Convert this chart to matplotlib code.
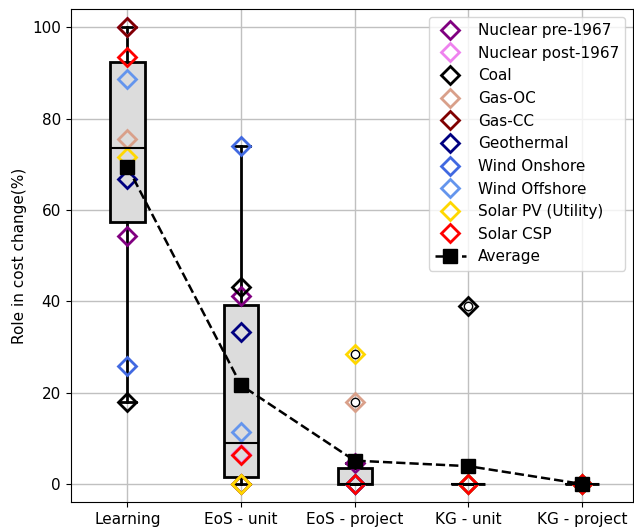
import numpy as np
import matplotlib
matplotlib.use('Agg')
from matplotlib import pyplot as plt

# role of each mechanism in cost change (%) for each technology
categories = ['Learning', 'EoS - unit', 'EoS - project', 'KG - unit', 'KG - project']
techs = ['Nuclear pre-1967', 'Nuclear post-1967', 'Coal', 'Gas-OC', 'Gas-CC',
         'Geothermal', 'Wind Onshore', 'Wind Offshore', 'Solar PV (Utility)', 'Solar CSP']
colors = ['purple', 'violet', 'black', '#d9a08a', 'maroon',
          'navy', 'royalblue', 'cornflowerblue', 'gold', 'red']

nuclear_pre = [54.4, 41.2, 4.6, 0, 0]
nuclear_post = [100, 6.6, 0, 0, 0]
coal = [18, 43.2, 0, 39, 0]
gas_oc = [75.6, 0, 18, 0, 0]
gas_cc = [100, 0, 0, 0, 0]
geothermal = [66.7, 33.3, 0, 0, 0]
wind_on = [25.9, 74.1, 0, 0, 0]
wind_off = [88.6, 11.4, 0, 0, 0]
solar_pv = [71.5, 0, 28.5, 0, 0]
solar_csp = [93.6, 6.4, 0, 0, 0]

values = np.array([nuclear_pre, nuclear_post, coal, gas_oc, gas_cc,
                   geothermal, wind_on, wind_off, solar_pv, solar_csp])
average = values.mean(axis=0)
x = np.arange(1, len(categories) + 1)

fig = plt.figure(figsize=(6.34, 5.29), dpi=100)
ax = fig.add_axes([70.7/634, 27/529, (633-70.7)/634, (502-9.3)/529])
ax.set_axisbelow(True)
ax.grid(True, color='#c0c0c0', linewidth=1)

ax.boxplot([values[:, i] for i in range(len(categories))], positions=x, widths=0.3,
           patch_artist=True,
           boxprops=dict(facecolor='#dcdcdc', edgecolor='black', linewidth=2),
           whiskerprops=dict(color='black', linewidth=2),
           capprops=dict(color='black', linewidth=2),
           medianprops=dict(color='black', linewidth=1.5),
           flierprops=dict(marker='o', markerfacecolor='white', markeredgecolor='black', markersize=6))

for name, col, vals in zip(techs, colors, values):
    ax.plot(x, vals, 'D', markerfacecolor='none', markeredgecolor=col,
            markeredgewidth=2, markersize=9, linestyle='none', label=name)

ax.plot(x, average, 'k--s', markersize=10, linewidth=1.8, label='Average', zorder=5)

ax.set_xticks(x)
ax.set_xticklabels(categories, fontsize=11)
ax.set_yticks(np.arange(0, 101, 20))
ax.tick_params(labelsize=11)
ax.set_xlim(0.5, 5.45)
ax.set_ylim(-3.95, 103.95)
ax.set_ylabel('Role in cost change(%)', fontsize=11)
ax.legend(loc='upper right', fontsize=11)

fig.savefig('out.png', dpi=100)
